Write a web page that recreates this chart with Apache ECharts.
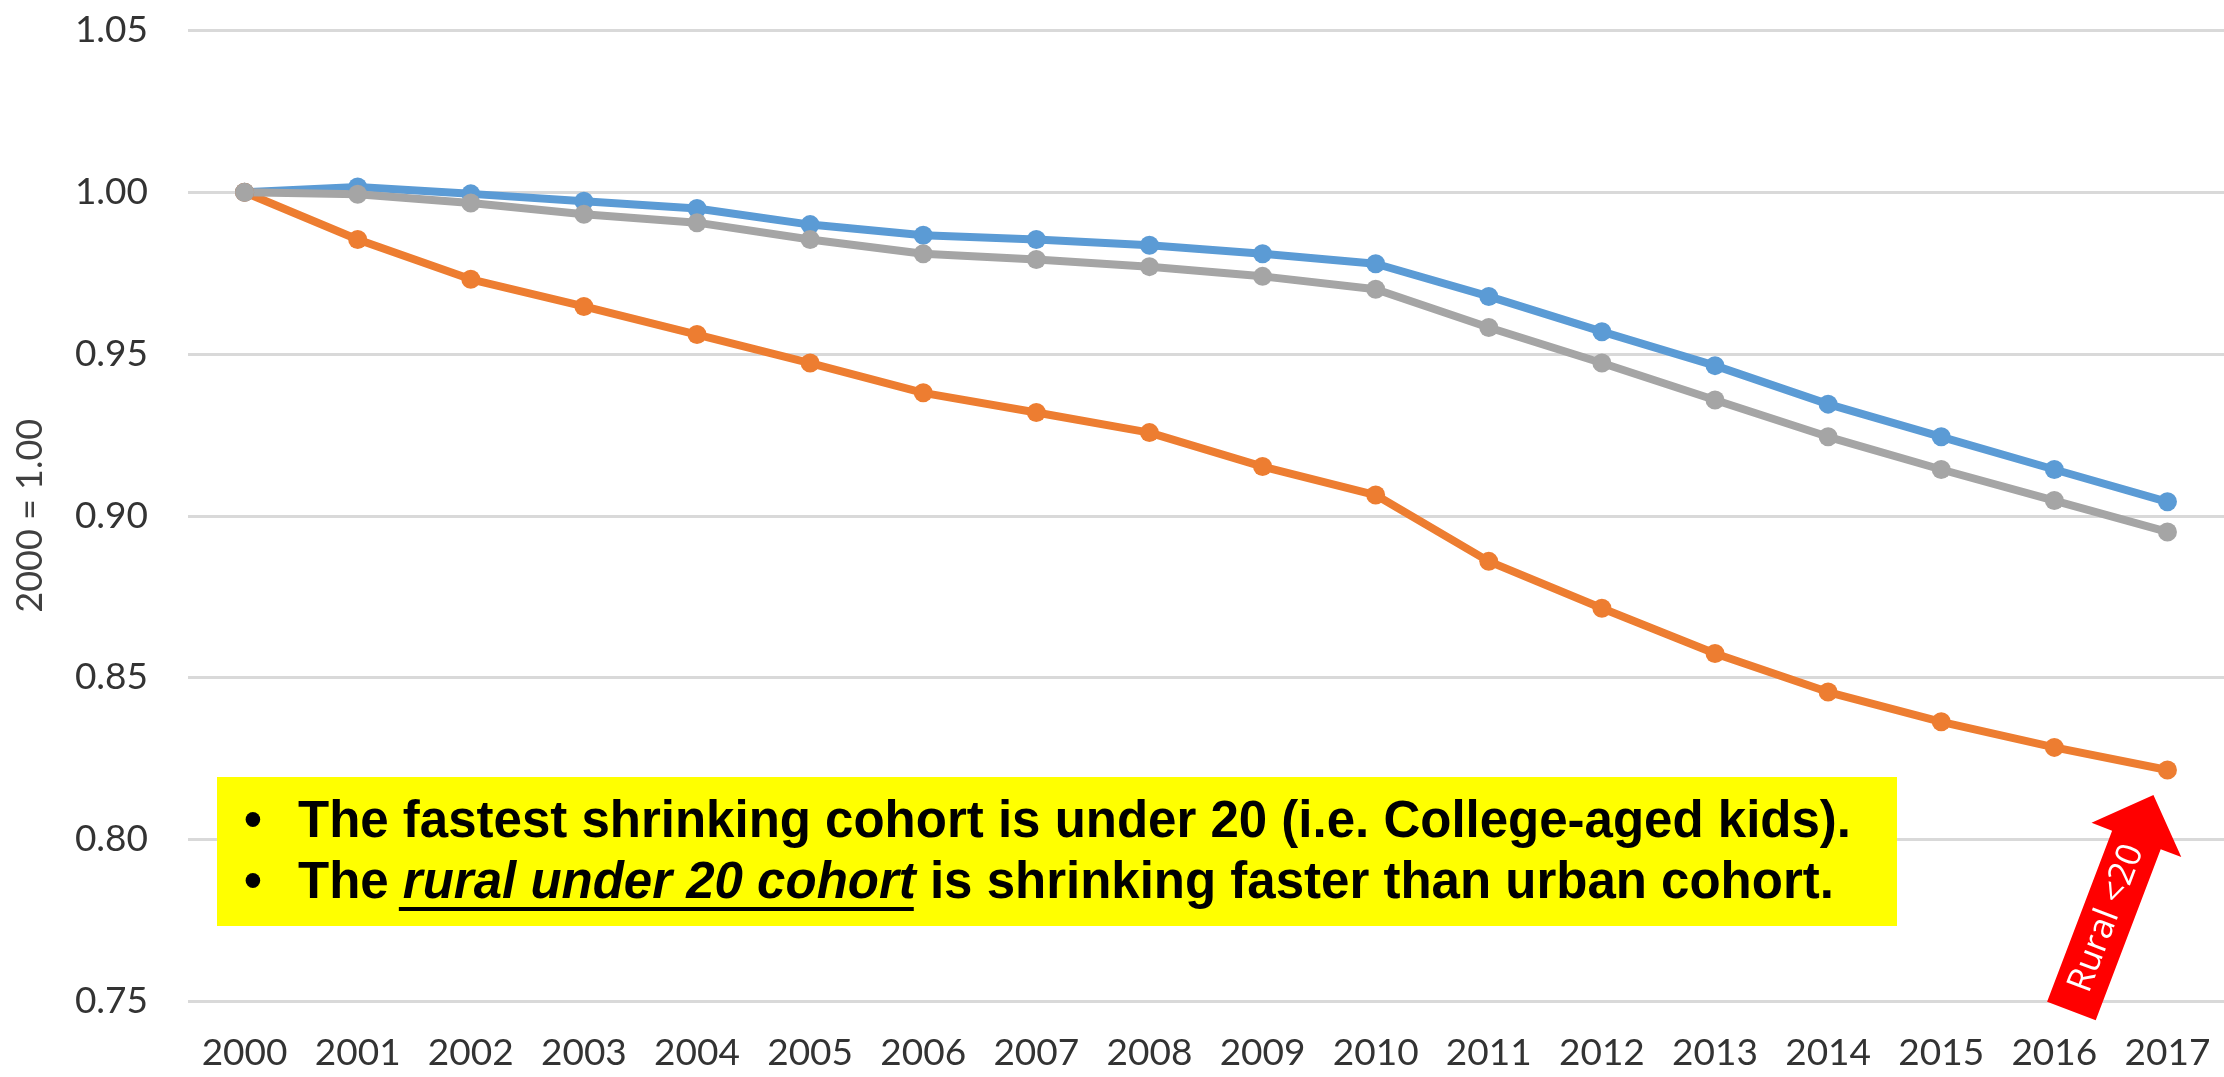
<!DOCTYPE html>
<html>
<head>
<meta charset="utf-8">
<script src="https://cdn.jsdelivr.net/npm/echarts@6/dist/echarts.min.js"></script>
<style>
html,body{margin:0;padding:0;background:#fff;}
#c{width:2224px;height:1077px;}
</style>
</head>
<body>
<div id="c"></div>
<script>
const years = ['2000','2001','2002','2003','2004','2005','2006','2007','2008','2009','2010','2011','2012','2013','2014','2015','2016','2017'];
const urbanUnder20 = [1.000, 1.0016, 0.9995, 0.9972, 0.995, 0.990, 0.9867, 0.9854, 0.9836, 0.981, 0.9779, 0.9678, 0.9569, 0.9464, 0.9345, 0.9244, 0.9143, 0.9043];
const ruralUnder20 = [1.000, 0.9854, 0.9731, 0.9647, 0.956, 0.9472, 0.938, 0.9319, 0.9257, 0.9152, 0.9064, 0.8859, 0.8714, 0.8574, 0.8455, 0.8363, 0.8284, 0.8214];
const totalUnder20 = [1.000, 0.9994, 0.9967, 0.9932, 0.9906, 0.9854, 0.981, 0.9792, 0.977, 0.974, 0.970, 0.9582, 0.9472, 0.9358, 0.9244, 0.9143, 0.9047, 0.895];
const yTicks = {min: 0.75, max: 1.05, interval: 0.05};
const yAxisName = '2000 = 1.00';
const note1 = 'The fastest shrinking cohort is under 20 (i.e. College-aged kids).';
const note2a = 'The ';
const note2b = 'rural under 20 cohort';
const note2c = ' is shrinking faster than urban cohort.';
const arrowLabel = 'Rural <20';

const chart = echarts.init(document.getElementById('c'), null, {renderer: 'canvas'});
const tickFont = 'Lato';
function mk(name, data, color) {
  return {
    name: name, type: 'line', data: data, symbol: 'circle', symbolSize: 19,
    lineStyle: {width: 8, color: color}, itemStyle: {color: color},
    emphasis: {disabled: true}, animation: false
  };
}
chart.setOption({
  animation: false,
  grid: {left: 188, right: -8, top: 30.5, bottom: 76, containLabel: false},
  xAxis: {
    type: 'category', data: years, boundaryGap: true,
    axisLine: {show: false}, axisTick: {show: false},
    axisLabel: {fontFamily: tickFont, fontSize: 37, color: '#333333', margin: 34, interval: 0}
  },
  yAxis: {
    type: 'value', min: yTicks.min, max: yTicks.max, interval: yTicks.interval,
    name: yAxisName, nameLocation: 'middle', nameRotate: 90, nameGap: 140,
    nameTextStyle: {fontFamily: tickFont, fontSize: 36, color: '#404040'},
    axisLine: {show: false}, axisTick: {show: false},
    axisLabel: {fontFamily: tickFont, fontSize: 37, color: '#333333', margin: 40,
      formatter: v => v.toFixed(2)},
    splitLine: {lineStyle: {color: '#D9D9D9', width: 3}}
  },
  series: [
    mk('Urban <20', urbanUnder20, '#5B9BD5'),
    mk('Rural <20', ruralUnder20, '#ED7D31'),
    mk('Total <20', totalUnder20, '#A5A5A5')
  ]
});

// annotation graphics
const ctx = document.createElement('canvas').getContext('2d');
const fam = '"Liberation Sans", Arial, sans-serif';
const fs = 51;
function w(txt, italic) {
  ctx.font = (italic ? 'italic ' : '') + 'bold ' + fs + 'px ' + fam;
  return ctx.measureText(txt).width;
}
function txt(x, y, s, italic) {
  return {type: 'text', x: x, y: y, silent: true, z: 20,
    style: {text: s, fontFamily: fam, fontSize: fs, fontWeight: 'bold',
      fontStyle: italic ? 'italic' : 'normal', fill: '#000', textVerticalAlign: 'middle', textAlign: 'left'}};
}
const tx = 298, y1 = 823, y2 = 884;
const wa = w(note2a, false), wb = w(note2b, true);
const elems = [
  {type: 'rect', shape: {x: 217, y: 777, width: 1680, height: 149}, style: {fill: '#FFFF00'}, z: 10, silent: true},
  {type: 'text', x: 253, y: y1, z: 20, silent: true, style: {text: '•', fontFamily: fam, fontSize: fs, fontWeight: 'bold', fill: '#000', textAlign: 'center', textVerticalAlign: 'middle'}},
  {type: 'text', x: 253, y: y2, z: 20, silent: true, style: {text: '•', fontFamily: fam, fontSize: fs, fontWeight: 'bold', fill: '#000', textAlign: 'center', textVerticalAlign: 'middle'}},
  txt(tx, y1, note1, false),
  txt(tx, y2, note2a, false),
  txt(tx + wa, y2, note2b, true),
  txt(tx + wa + wb, y2, note2c, false),
  {type: 'rect', shape: {x: tx + wa - 4, y: 907, width: wb + 2, height: 4}, style: {fill: '#000'}, z: 20, silent: true}
];

// arrow anchored below the last rural point
const p = chart.convertToPixel({xAxisIndex: 0, yAxisIndex: 0}, [years.length - 1, ruralUnder20[ruralUnder20.length - 1]]);
const tip = [p[0] - 14, p[1] + 25];
elems.push({
  type: 'group', x: tip[0], y: tip[1], rotation: -20.8 * Math.PI / 180, z: 30, silent: true,
  children: [
    {type: 'polygon', shape: {points: [[0,0],[48,48],[26,48],[26,231],[-26,231],[-26,48],[-48,48]]},
      style: {fill: '#FF0000'}},
    {type: 'text', x: 0, y: 132, rotation: Math.PI / 2,
      style: {text: arrowLabel, fontFamily: '"Open Sans", sans-serif', fontSize: 35, fill: '#fff',
        textAlign: 'center', textVerticalAlign: 'middle'}}
  ]
});
chart.setOption({graphic: {elements: elems}});
</script>
</body>
</html>
